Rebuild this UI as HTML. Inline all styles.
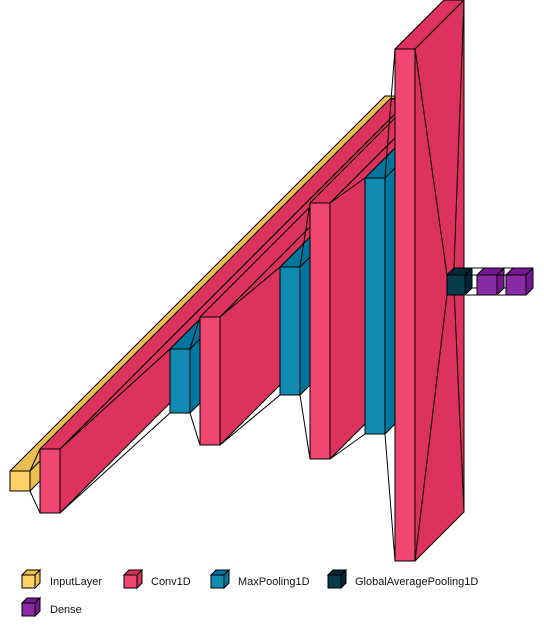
<!DOCTYPE html>
<html><head><meta charset="utf-8"><style>
body{margin:0;background:#fff;width:544px;height:628px;overflow:hidden}
svg{display:block}
text{font-family:"Liberation Sans",sans-serif;font-size:11px;fill:#111}
</style></head><body>
<svg id="c" width="544" height="628"></svg>
<script>
const layerNames=["input","conv1","pool1","conv2","pool2","conv3","pool3","conv4","gap","dense1","dense2"];
const layerTypes=["InputLayer","Conv1D","MaxPooling1D","Conv1D","MaxPooling1D","Conv1D","MaxPooling1D","Conv1D","GlobalAveragePooling1D","Dense","Dense"];
const layerHeights=[20,64,64,128,128,256,256,512,20,20,20];
const layerDepths=[375,350,225,200,120,90,35,49,7,7,7];
const layerWidths=[20,20,20,20,20,20,20,20,18,20,20];
const layerX=[10,40,170,200,280,310,365,395,447,477,506];
const colors={InputLayer:["#FFD166","#EBBE52"],Conv1D:["#EF476F","#DB335B"],MaxPooling1D:["#118AB2","#00769E"],GlobalAveragePooling1D:["#073B4C","#002738"],Dense:["#8A2BA6","#761792"]};
const legendTypes=["InputLayer","Conv1D","MaxPooling1D","GlobalAveragePooling1D","Dense"];
const NS="http://www.w3.org/2000/svg";
const svg=document.getElementById('c');
const centerY=[481,481,381,381,331,331,306,305,285,285,285];
function el(t,a){const e=document.createElementNS(NS,t);for(const k in a)e.setAttribute(k,a[k]);svg.appendChild(e);return e;}
function box(x,y,w,h,d,type,name){
  const c=colors[type];
  const g=document.createElementNS(NS,'g');svg.appendChild(g);
  
  
  const s='stroke:#000;stroke-width:1;stroke-linejoin:round';
  const mk=(pts,f)=>{const p=document.createElementNS(NS,'polygon');p.setAttribute('points',pts);p.setAttribute('style',s+';fill:'+f);g.appendChild(p);};
  mk(`${x},${y} ${x+d},${y-d} ${x+w+d},${y-d} ${x+w},${y}`,c[1]);
  mk(`${x+w},${y} ${x+w+d},${y-d} ${x+w+d},${y+h-d} ${x+w},${y+h}`,c[1]);
  mk(`${x},${y} ${x+w},${y} ${x+w},${y+h} ${x},${y+h}`,c[0]);
}
let prev=null;
for(let i=0;i<layerNames.length;i++){
  const h=layerHeights[i],w=layerWidths[i],d=layerDepths[i],x=layerX[i];
  const y=centerY[i]-h/2;
  if(prev){
    const lines=[[prev.x+prev.w,prev.y,x,y],[prev.x+prev.w,prev.y+prev.h,x,y+h],
      [prev.x+prev.w+prev.d,prev.y-prev.d,x+d,y-d],[prev.x+prev.w+prev.d,prev.y+prev.h-prev.d,x+d,y+h-d]];
    lines.forEach(l=>{const ln=el('line',{x1:l[0],y1:l[1],x2:l[2],y2:l[3],stroke:'#000','stroke-width':1});
      
      });
  }
  box(x,y,w,h,d,layerTypes[i],'layer-'+layerNames[i]);
  prev={x,y,w,h,d};
}
const legX=[22,124,211,328,22],legTX=[50,151,238,355,50],legY=[575,575,575,575,603];
legendTypes.forEach((t,i)=>{
  const g=document.createElementNS(NS,'g');svg.appendChild(g);
  
  
  const c=colors[t],x=legX[i],y=legY[i],s=13,d=5;
  [[`${x},${y} ${x+d},${y-d} ${x+s+d},${y-d} ${x+s},${y}`,c[1]],[`${x+s},${y} ${x+s+d},${y-d} ${x+s+d},${y+s-d} ${x+s},${y+s}`,c[1]],[`${x},${y} ${x+s},${y} ${x+s},${y+s} ${x},${y+s}`,c[0]]].forEach(p=>{
    const q=document.createElementNS(NS,'polygon');q.setAttribute('points',p[0]);q.setAttribute('style','stroke:#000;stroke-width:1;fill:'+p[1]);g.appendChild(q);});
  const tx=document.createElementNS(NS,'text');tx.setAttribute('x',legTX[i]);tx.setAttribute('y',y+10);tx.textContent=t;g.appendChild(tx);
});
</script>
</body></html>
